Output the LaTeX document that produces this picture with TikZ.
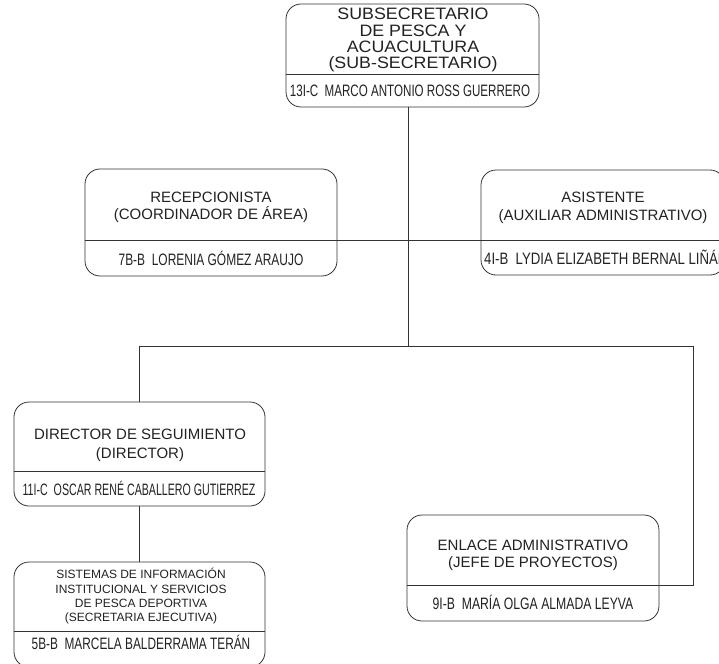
\documentclass[tikz,border=0pt]{standalone}
\usepackage{fontspec}
\setmainfont{Liberation Sans}
\newfontfamily\nmTop[FakeStretch=0.703]{Liberation Sans}
\newfontfamily\nmRec[FakeStretch=0.725]{Liberation Sans}
\newfontfamily\nmAsi[FakeStretch=0.80]{Liberation Sans}
\newfontfamily\nmDir[FakeStretch=0.645]{Liberation Sans}
\newfontfamily\nmSis[FakeStretch=0.718]{Liberation Sans}
\newfontfamily\nmEnl[FakeStretch=0.74]{Liberation Sans}
\newfontfamily\topfont[FakeStretch=1.08]{Liberation Sans}
\definecolor{ink}{HTML}{222222}
\definecolor{edge}{HTML}{333333}
\begin{document}
\begin{tikzpicture}[x=1pt,y=-1pt,
  box/.style={draw=edge,line width=0.8pt,rounded corners=15pt,inner sep=0pt},
  ttl/.style={anchor=base,inner sep=0pt,text=ink,font=\fontsize{15}{17}\selectfont},
  ttltop/.style={anchor=base,inner sep=0pt,text=ink,font=\topfont\fontsize{16.5}{17}\selectfont},
  ttlsm/.style={anchor=base,inner sep=0pt,text=ink,font=\fontsize{12}{14}\selectfont},
  nm/.style={anchor=base,inner sep=0pt,text=ink,font=#1\fontsize{16.5}{18}\selectfont},
  conn/.style={draw=edge,line width=0.8pt}]
\clip (0,0) rectangle (719,663);
\fill[white] (0,0) rectangle (719,663);
% boxes
\node[box,minimum width=253pt,minimum height=103pt] (top) at (412.5,55.5) {};
\node[box,minimum width=252pt,minimum height=107pt] (rec) at (211,222.5) {};
\node[box,minimum width=244pt,minimum height=105pt] (asi) at (603,222.5) {};
\node[box,minimum width=251pt,minimum height=104pt] (dir) at (139.5,454) {};
\node[box,minimum width=251pt,minimum height=105pt] (sis) at (139.5,614.5) {};
\node[box,minimum width=252pt,minimum height=106pt] (enl) at (533,568) {};
% dividers
\draw[conn] (top.west |- 0,74) -- (top.east |- 0,74);
\draw[conn] (dir.west |- 0,471) -- (dir.east |- 0,471);
\draw[conn] (sis.west |- 0,631) -- (sis.east |- 0,631);
\draw[conn] (enl.west |- 0,585) -- (enl.east |- 0,585);
\draw[conn] (rec.west |- 0,240) -- (rec.east |- 0,240);
\draw[conn] (asi.west |- 0,240) -- (asi.east |- 0,240);
% connectors
\coordinate (jc) at (408,346);
\coordinate (jl) at (139,346);
\coordinate (jr) at (693,346);
\coordinate (jre) at (693,585);
\draw[conn] (top.south -| jc) -- (jc);
\draw[conn] (rec.east |- 0,240) -- (asi.west |- 0,240);
\draw[conn] (dir.north -| jl) -- (jl) -- (jr) -- (jre) -- (enl.east |- jre);
\draw[conn] (dir.south -| jl) -- (sis.north -| jl);
% texts
\node[ttltop] (t1) at (413,20) {SUBSECRETARIO};
\node[ttltop] (t2) at (413,37) {DE PESCA Y};
\node[ttltop] (t3) at (413,53) {ACUACULTURA};
\node[ttltop] (t4) at (413,68.5) {(SUB-SECRETARIO)};
\node[nm=\nmTop] (n1) at (410,97) {13I-C\ \ MARCO ANTONIO ROSS GUERRERO};
\node[ttl] (r1) at (211,202.5) {RECEPCIONISTA};
\node[ttl] (r2) at (211,219.5) {(COORDINADOR DE ÁREA)};
\node[nm=\nmRec] (n2) at (211,265) {7B-B\ \ LORENIA GÓMEZ ARAUJO};
\node[ttl] (a1) at (603,202.5) {ASISTENTE};
\node[ttl] (a2) at (603,220) {(AUXILIAR ADMINISTRATIVO)};
\node[nm=\nmAsi,anchor=base west] (n3) at (484,264) {4I-B\ \ LYDIA ELIZABETH BERNAL LIÑÁN};
\node[ttl] (d1) at (140,439) {DIRECTOR DE SEGUIMIENTO};
\node[ttl] (d2) at (140,458) {(DIRECTOR)};
\node[nm=\nmDir] (n4) at (139,495) {11I-C\ \ OSCAR RENÉ CABALLERO GUTIERREZ};
\node[ttlsm] (s1) at (141,578.5) {SISTEMAS DE INFORMACIÓN};
\node[ttlsm] (s2) at (141,593) {INSTITUCIONAL Y SERVICIOS};
\node[ttlsm] (s3) at (141,607.5) {DE PESCA DEPORTIVA};
\node[ttlsm] (s4) at (141,621.5) {(SECRETARIA EJECUTIVA)};
\node[nm=\nmSis] (n5) at (141,649.5) {5B-B\ \ MARCELA BALDERRAMA TERÁN};
\node[ttl] (e1) at (533,550.5) {ENLACE ADMINISTRATIVO};
\node[ttl] (e2) at (533,567.5) {(JEFE DE PROYECTOS)};
\node[nm=\nmEnl] (n6) at (533,609) {9I-B\ \ MARÍA OLGA ALMADA LEYVA};
\end{tikzpicture}
\end{document}
